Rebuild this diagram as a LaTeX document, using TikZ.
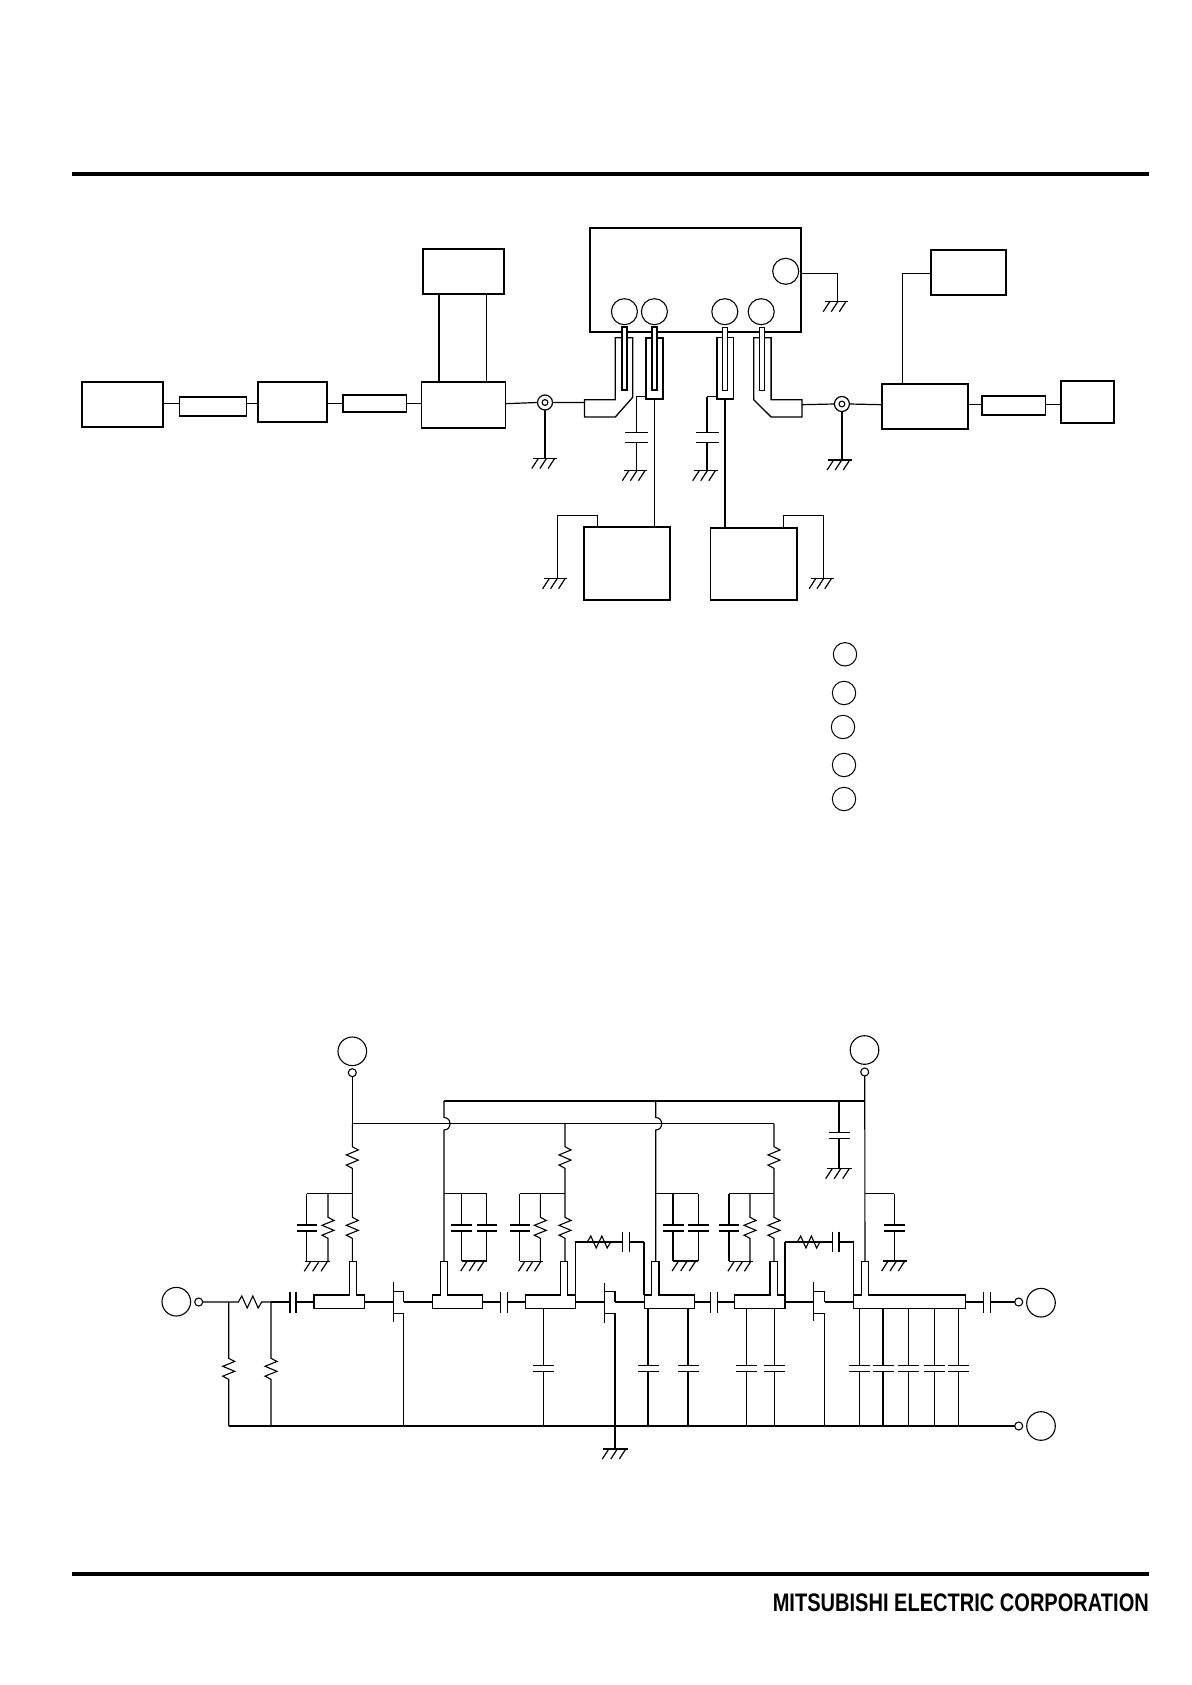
\documentclass[tikz,border=0pt]{standalone}
\usepackage{graphicx}
\usepackage{fontspec}
\setmainfont{Liberation Sans}
\usetikzlibrary{calc}
\tikzset{
  wire/.style={line width=1.1pt,line join=miter},
  lead/.style={line width=1.2pt,line join=miter},
  blockbox/.style={draw,line width=1.7pt,fill=white,inner sep=0pt,outer sep=0pt,rectangle},
  padshape/.style={draw,line width=1.3pt,fill=white,line join=miter},
  pinbar/.style={draw,fill=white,line width=1.4pt},
  pinbarbold/.style={draw,fill=white,line width=2pt},
  termL/.style={draw,circle,line width=1.1pt,inner sep=0pt,outer sep=0pt,minimum size=28.6pt},
  termS/.style={draw,circle,line width=1.1pt,inner sep=0pt,outer sep=0pt,fill=white,minimum size=8pt},
  pinmark/.style={draw,circle,line width=1.1pt,inner sep=0pt,outer sep=0pt,fill=white,minimum size=26pt},
  legendmark/.style={draw,circle,line width=1pt,inner sep=0pt,outer sep=0pt,minimum size=23.4pt},
  coax/.style={draw,circle,line width=1.2pt,inner sep=0pt,outer sep=0pt,minimum size=15pt},
  rulebar/.style={line width=4.2pt}
}
% box from corners: name, x1,y1,x2,y2
\newcommand{\mybox}[6][]{\node[blockbox,#1,minimum width={(#5-#3)*1pt},minimum height={(#6-#4)*1pt}] (#2) at ({(#3+#5)/2},{(#4+#6)/2}) {};}
% ground: x1, x2, y
\newcommand{\gnd}[3]{\draw[lead] (#1,#3) -- (#2,#3);
  \draw[lead] ({#1+0.22*(#2-#1)},#3) -- ({#1+0.22*(#2-#1)-6.5},{#3+10});
  \draw[lead] ({#1+0.56*(#2-#1)},#3) -- ({#1+0.56*(#2-#1)-6.5},{#3+10});
  \draw[lead] ({#1+0.90*(#2-#1)},#3) -- ({#1+0.90*(#2-#1)-6.5},{#3+10});}
% vertical capacitor: x, ytop, ybot, plate1, plate2, halfwidth
\newcommand{\vcap}[6]{\draw[wire] (#1,#2) -- (#1,#4) (#1,#5) -- (#1,#3);
  \draw[wire,line width=1.3pt] ({#1-#6},#4) -- ({#1+#6},#4) ({#1-#6},#5) -- ({#1+#6},#5);}
% horizontal capacitor: y, xleft, xright, plate1, plate2, halfheight
\newcommand{\hcap}[6]{\draw[wire] (#2,#1) -- (#4,#1) (#5,#1) -- (#3,#1);
  \draw[wire,line width=1.3pt] (#4,{#1-#6}) -- (#4,{#1+#6}) (#5,{#1-#6}) -- (#5,{#1+#6});}
% vertical resistor: x, ytop, ybot, r1, r2
\newcommand{\vres}[5]{\draw[wire] (#1,#2) -- (#1,#4)
  -- ({#1+6},{#4+0.15*(#5-#4)}) -- ({#1-6},{#4+0.38*(#5-#4)})
  -- ({#1+6},{#4+0.62*(#5-#4)}) -- ({#1-6},{#4+0.85*(#5-#4)})
  -- (#1,#5) -- (#1,#3);}
% horizontal resistor: y, xleft, xright, r1, r2
\newcommand{\hres}[5]{\draw[wire] (#2,#1) -- (#4,#1)
  -- ({#4+0.15*(#5-#4)},{#1-6}) -- ({#4+0.38*(#5-#4)},{#1+6})
  -- ({#4+0.62*(#5-#4)},{#1-6}) -- ({#4+0.85*(#5-#4)},{#1+6})
  -- (#5,#1) -- (#3,#1);}
% tee microstrip: name, xl, xr, stubl, stubr
\newcommand{\tee}[5]{\draw[wire] (#2,1295) -- (#4,1295) -- (#4,1261.3) -- (#5,1261.3) -- (#5,1295) -- (#3,1295) -- (#3,1308.7) -- (#2,1308.7) -- cycle;
  \coordinate (#1-w) at (#2,1302);
  \coordinate (#1-e) at (#3,1302);
  \coordinate (#1-n) at ({(#4+#5)/2},1261.3);}
% fet: gate x, drain x
\newcommand{\fetsym}[3]{\draw[wire,line width=1.3pt] (#1,#3) -- (#1,{#3+39.5});
  \draw[wire] (#1,1291.7) -- (#2,1291.7) -- (#2,1302) (#1,1313.3) -- (#2,1313.3) -- (#2,1426);}
% bias leg: x, xcap, xres, barL, barR
\newcommand{\biasleg}[5]{\vres{#1}{1123.7}{1193.7}{1146.7}{1168.3}
  \vres{#1}{1193.7}{1261.3}{1217.3}{1238.3}
  \draw[wire] (#1,1193.7) -- (#2,1193.7);
  \vcap{#2}{1193.7}{1261.3}{1225}{1231}{10}
  \vres{#3}{1193.7}{1261.3}{1217.3}{1238.3}
  \gnd{#4}{#5}{1261.3}}
% supply rail with jump: x
\newcommand{\jumprail}[1]{\draw[wire] (#1,1101) -- (#1,1117.5) .. controls ({#1+8},1117.5) and ({#1+8},1130) .. (#1,1130) -- (#1,1261.3);}
% shunt cap to bus
\newcommand{\buscap}[2]{\vcap{#1}{1308.7}{1426}{1365.7}{1371.7}{#2}}
\begin{document}
\begin{tikzpicture}[x=1pt,y=-1pt]
\useasboundingbox (0,0) rectangle (1191,1685);
\fill[white] (0,0) rectangle (1191,1685);
% page rules
\coordinate (ruleTL) at (72,174);
\coordinate (ruleTR) at (1149,174);
\coordinate (ruleBL) at (72,1574);
\coordinate (ruleBR) at (1149,1574);
\draw[rulebar] (ruleTL) -- (ruleTR);
\draw[rulebar] (ruleBL) -- (ruleBR);
\node[anchor=base east,inner sep=0pt] (brand) at (1149,1611) {\resizebox{376pt}{17.7pt}{\bfseries MITSUBISHI ELECTRIC CORPORATION}};
% ---- test set-up: levels
\coordinate (yL) at (0,403.7);
\coordinate (yR) at (0,404.7);
% left chain
\mybox{sg}{81.8}{382.3}{163.2}{427}
\mybox{attA}{179.6}{397.3}{246.4}{416.3}
\mybox{drv}{258.2}{382.3}{326.8}{422.3}
\mybox{attB}{342.9}{394.7}{406.4}{412.3}
\mybox{coupL}{421.4}{382.3}{505.4}{428}
\mybox{mtrL}{422.9}{249.3}{504.3}{293.7}
\draw[lead] (sg.east |- yL) -- (attA.west |- yL);
\draw[lead] (attA.east |- yL) -- (drv.west |- yL);
\draw[lead] (drv.east |- yL) -- (attB.west |- yL);
\draw[lead] (attB.east |- yL) -- (coupL.west |- yL);
\coordinate (mtrA) at (438.9,0);
\coordinate (mtrB) at (486.8,0);
\draw[lead] (mtrL.south -| mtrA) -- (coupL.north -| mtrA);
\draw[lead] (mtrL.south -| mtrB) -- (coupL.north -| mtrB);
% coax left
\node[coax] (cxL) at (545,402.5) {};
\node[draw,circle,line width=1.1pt,inner sep=0pt,minimum size=5.8pt] (cxLi) at (545,402.5) {};
\draw[lead] (coupL.east |- yL) -- (cxL.west);
\draw[lead] (cxL.south) -- (545,458.5);
\gnd{533}{557}{458.5}
% DUT
\mybox{dut}{590}{227.7}{801.1}{332}
\node[pinmark] (p1) at (624.4,311.7) {};
\node[pinmark] (p2) at (654.4,311.7) {};
\node[pinmark] (p3) at (724.8,311.7) {};
\node[pinmark] (p4) at (761.2,311.7) {};
\node[pinmark] (p5) at (785.7,271.3) {};
\draw[lead] (dut.east |- p5) ++(0,2) -- (837.1,273.3) -- (837.1,301.7);
\gnd{824.5}{848.2}{301.7}
% input pad
\draw[padshape] (584.5,399.7) -- (615.3,399.7) -- (615.3,337.7) -- (632.7,337.7) -- (632.7,397.3) -- (615.3,417) -- (584.5,417) -- cycle;
\coordinate (padLw) at (584.5,402.6);
\draw[lead] (cxL.east) -- (padLw);
% gate rect
\mybox[line width=2pt]{rectG}{646.1}{337.7}{662.7}{399}
\mybox[line width=1.3pt]{rectD}{716.9}{337.7}{733.5}{399}
% output pad
\draw[padshape] (753.7,337.7) -- (771.1,337.7) -- (771.1,399.7) -- (801.9,399.7) -- (801.9,417) -- (771.1,417) -- (753.7,399.7) -- cycle;
% pins
\draw[pinbarbold] (621.6,327.3) rectangle (627.2,390.3);
\draw[pinbarbold] (651.7,327.3) rectangle (657.2,390.3);
\draw[pinbar] (722.5,327.3) rectangle (727.6,390.3);
\draw[pinbar] (759.2,327.3) rectangle (764.4,390.3);
% caps at the bias leads
\draw[lead] (rectG.west |- 0,396.7) -- (636.3,396.7);
\vcap{636.3}{396.7}{470.7}{432.7}{442.3}{11.5}
\gnd{623.6}{647.3}{470.7}
\draw[lead] (rectD.west |- 0,396.7) -- (707,396.7);
\vcap{707}{396.7}{470.7}{432.7}{442.3}{11.5}
\gnd{694}{717.7}{470.7}
% power supplies
\mybox{psG}{583.7}{527.3}{670.3}{600}
\mybox{psD}{710.6}{528.3}{796.8}{600}
\draw[lead] (rectG.south) -- (psG.north -| rectG.south);
\draw[lead,line width=1.6pt] (rectD.south) -- (psD.north -| rectD.south);
\draw[lead] (597.5,527.3) -- (597.5,515.3) -- (557.2,515.3) -- (557.2,578.7);
\gnd{544}{567.4}{578.7}
\draw[lead] (783.3,528.3) -- (783.3,515.3) -- (823.7,515.3) -- (823.7,578.7);
\gnd{810.6}{833.6}{578.7}
% right chain
\node[coax] (cxR) at (841.9,404) {};
\node[draw,circle,line width=1.1pt,inner sep=0pt,minimum size=5.8pt] (cxRi) at (841.9,404) {};
\coordinate (padRe) at (801.9,404.7);
\draw[lead] (padRe) -- (cxR.west);
\draw[lead] (cxR.south) -- (841.9,460);
\gnd{828.4}{852.1}{460}
\mybox{coupR}{881.8}{383.7}{968}{429.3}
\mybox{attR}{981.8}{395.7}{1045.5}{415.3}
\mybox{load}{1060.9}{380.7}{1114.3}{423.3}
\mybox{mtrR}{930.8}{249.7}{1006}{295}
\draw[lead] (cxR.east) -- (coupR.west |- yR);
\draw[lead] (coupR.east |- yR) -- (attR.west |- yR);
\draw[lead] (attR.east |- yR) -- (load.west |- yR);
\coordinate (mtrRc) at (902.4,273.3);
\draw[lead] (mtrR.west |- mtrRc) -- (mtrRc) -- (coupR.north -| mtrRc);
% legend marks
\node[legendmark] (leg1) at (845,654.3) {};
\node[legendmark] (leg2) at (844,693) {};
\node[legendmark] (leg3) at (843,727) {};
\node[legendmark] (leg4) at (844,765) {};
\node[legendmark] (leg5) at (844,799) {};
% ---- schematic
\node[termL] (vg) at (352.3,1051.3) {};
\node[termS] (vgs) at (352.3,1072.7) {};
\node[termL] (vd) at (864.5,1050) {};
\node[termS] (vds) at (864.7,1072) {};
\node[termL] (rfin) at (176.3,1301.7) {};
\node[termS] (rfins) at (198.7,1302) {};
\node[termL] (rfout) at (1041,1302.7) {};
\node[termS] (rfouts) at (1018.7,1302) {};
\node[termL] (gndT) at (1041,1426) {};
\node[termS] (gndTs) at (1018.7,1426) {};
% tees
\tee{t1}{314}{364.3}{349.3}{356.7}
\tee{t2}{432.7}{482.7}{440.7}{447.7}
\tee{t3}{525.3}{575.3}{560.7}{567.3}
\tee{t4}{644.3}{694.3}{651.7}{659}
\tee{t5}{734.7}{785}{770}{777.3}
\tee{t6}{853.7}{965.7}{861.3}{868.7}
% input network
\hres{1302}{202.7}{271}{238.3}{261.7}
\hcap{1302}{271}{314}{290}{296}{10.5}
\vres{228.7}{1302}{1426}{1358.3}{1379.3}
\vres{271}{1302}{1426}{1358.3}{1379.3}
% bus and rails
\draw[wire] (228.7,1426) -- (gndTs.west);
\draw[wire] (352.3,1123.7) -- (774,1123.7);
\draw[wire] (444,1101) -- (864.7,1101);
\draw[wire] (vgs.south) -- (352.3,1123.7);
\draw[wire] (vds.south) -- (t6-n);
\jumprail{444}
\jumprail{655.7}
% FETs
\fetsym{393.3}{403.7}{1282.3}
\fetsym{604.3}{615}{1283.3}
\fetsym{813.7}{824.7}{1281.7}
\draw[wire] (t1-e) -- (393.3,1302);
\draw[wire] (t3-e) -- (604.3,1302);
\draw[wire] (t5-e) -- (813.7,1302);
\draw[wire] (403.7,1302) -- (t2-w);
\draw[wire] (615,1302) -- (t4-w);
\draw[wire] (824.7,1302) -- (t6-w);
\draw[wire] (615,1426) -- (615,1449);
\gnd{603.3}{628.3}{1449}
% interstage caps
\hcap{1302}{482.7}{525.3}{500.3}{507.3}{10.5}
\hcap{1302}{694.3}{734.7}{710.7}{717.7}{10.5}
\hcap{1302}{965.7}{1014.7}{983.3}{990.3}{10.5}
% bias legs
\biasleg{352.3}{306.7}{328}{305.3}{330}
\biasleg{565}{519.7}{540.3}{519.7}{543.3}
\biasleg{774}{729}{750}{729}{753.3}
% drain decoupling
\draw[wire] (444,1193.7) -- (486.7,1193.7);
\vcap{461.7}{1193.7}{1261}{1225}{1231}{10.5}
\vcap{486.7}{1193.7}{1261}{1225}{1231}{10}
\gnd{461.7}{486.7}{1261}
\draw[wire] (655.7,1193.7) -- (698.3,1193.7);
\vcap{673}{1193.7}{1261}{1225}{1231}{10.5}
\vcap{698.3}{1193.7}{1261}{1225}{1231}{10.5}
\gnd{673}{698.3}{1261}
\draw[wire] (864.7,1193.7) -- (894.3,1193.7);
\vcap{894.3}{1193.7}{1261}{1225}{1231}{10.5}
\gnd{882.7}{907.3}{1261}
\vcap{839}{1101}{1168.7}{1132.7}{1138.3}{10.5}
\gnd{826.7}{851.7}{1168.7}
% feedback
\draw[wire] (575.3,1295) -- (575.3,1242);
\hres{1242}{575.3}{622.7}{587.3}{610.7}
\hcap{1242}{575.3}{644}{622.7}{629.3}{10.3}
\draw[wire] (644,1242) -- (644,1295);
\draw[wire] (785,1295) -- (785,1242);
\hres{1242}{785}{832.3}{797.3}{820}
\hcap{1242}{785}{853.7}{832.3}{839}{10.3}
\draw[wire] (853.7,1242) -- (853.7,1295);
% shunt caps
\buscap{543.3}{10.3}
\buscap{648}{10.5}
\buscap{688}{10.5}
\buscap{746.3}{10.3}
\buscap{774.7}{10.5}
\buscap{859.7}{10.5}
\buscap{883}{10.5}
\buscap{908.7}{10.5}
\buscap{934.3}{10.5}
\buscap{958.3}{10.5}
\end{tikzpicture}
\end{document}
